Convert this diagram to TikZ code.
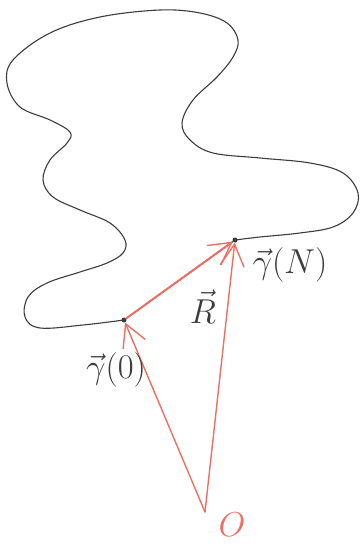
\documentclass[tikz,border=0pt]{standalone}
\usepackage{graphicx}
\usetikzlibrary{arrows.meta}
\definecolor{penred}{RGB}{238,110,100}
\definecolor{penink}{RGB}{60,60,60}
\newcommand{\bigtxt}[1]{\scalebox{2}{\LARGE #1}}
\begin{document}
\begin{tikzpicture}[x=1pt,y=-1pt,
  chain/.style={draw=penink,line width=1.1pt,line cap=round,line join=round},
  redvec/.style={draw=penred,line width=1.4pt,line cap=round,-{Straight Barb[length=22pt,width=24pt,line width=1.4pt]}},
  lab/.style={text=penink,inner sep=0pt},
  dotpt/.style={circle,fill=penink,inner sep=0pt,minimum size=5pt}]
\useasboundingbox (0,0) rectangle (361,545);
\coordinate (O) at (205,512);
\node[dotpt] (g0) at (124,320) {};
\node[dotpt] (gN) at (235,240) {};
% polymer chain
\draw[chain] plot[smooth,tension=0.6] coordinates{
 (124,320) (83,325) (40,328) (25,317) (28,297) (47,283) (80,272) (107,263) (123,253) (125,240)
 (110,223) (80,210) (53,197) (43,180) (50,160) (67,143) (70,132) (50,120) (20,107) (7,83)
 (13,60) (50,33) (100,17) (160,10) (200,13) (227,23) (238,40) (233,57) (217,77) (193,100)
 (182,123) (190,140) (213,153) (260,158) (310,163) (343,173) (358,193) (353,213) (333,227)
 (300,233) (260,237) (235,240)};
% vectors
\draw[redvec] (O) -- (g0);
\draw[redvec] (O) -- (gN);
\draw[draw=penink,line width=1.2pt] (g0) -- (gN);
\draw[redvec,line width=2pt] (g0) -- (gN);
% labels
\node[lab] (l0) at (116,370) {\bigtxt{$\vec{\gamma}(0)$}};
\node[lab] (lN) at (290,265) {\bigtxt{$\vec{\gamma}(N)$}};
\node[lab] (lR) at (203,307) {\bigtxt{$\vec{R}$}};
\node[lab,text=penred] (lO) at (232,525) {\bigtxt{$O$}};
\end{tikzpicture}
\end{document}
